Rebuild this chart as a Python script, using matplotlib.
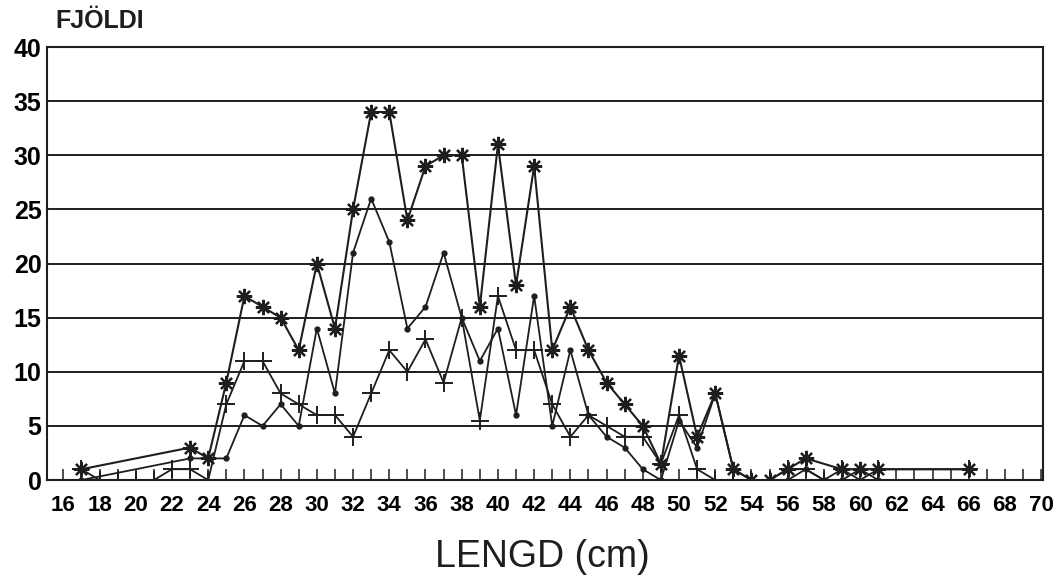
import matplotlib
matplotlib.use("Agg")
import matplotlib.pyplot as plt
import numpy as np

# ---- data (length in cm -> count) ----
total_len = [17, 23, 24, 25, 26, 27, 28, 29, 30, 31, 32, 33, 34, 35, 36, 37, 38, 39, 40,
             41, 42, 43, 44, 45, 46, 47, 48, 49, 50, 51, 52, 53, 54, 55, 56, 57, 59, 60, 61, 66]
total_val = [1, 3, 2, 9, 17, 16, 15, 12, 20, 14, 25, 34, 34, 24, 29, 30, 30, 16, 31,
             18, 29, 12, 16, 12, 9, 7, 5, 1.5, 11.5, 4, 8, 1, 0, 0, 1, 2, 1, 1, 1, 1]

dot_len = [17] + list(range(23, 62))
dot_val = [0, 2, 2, 2, 6, 5, 7, 5, 14, 8, 21, 26, 22, 14, 16, 21, 15, 11, 14, 6, 17,
           5, 12, 6, 4, 3, 1, 0, 5.5, 3, 8, 1, 0, 0, 0, 1, 0, 0, 1, 0]

plus_len = list(range(17, 62)) + [66]
plus_val = [1, 0, 0, 0, 0, 1, 1, 0, 7, 11, 11, 8, 7, 6, 6, 4, 8, 12, 10, 13, 9, 15, 5.5,
            17, 12, 12, 7, 4, 6, 5, 4, 4, 1.5, 6, 1, 0, 0, 0, 0, 1, 1, 0, 1, 0, 1, 1]

x_labels = list(range(16, 71, 2))
y_ticks = list(range(0, 41, 5))

plt.rcParams['font.family'] = ['Liberation Sans', 'DejaVu Sans']

fig = plt.figure(figsize=(10.59, 5.77), dpi=100)
ax = fig.add_axes([0.0444, 0.168, 0.9405, 0.7505])

ink = '#1e1e1e'
for yv in y_ticks[1:-1]:
    ax.axhline(yv, color=ink, lw=1.4, zorder=1)

ax.plot(total_len, total_val, color=ink, lw=1.5, marker=(8, 2, 0), ms=11, mew=1.6,
        zorder=3)
ax.plot(dot_len, dot_val, color=ink, lw=1.3, marker='o', ms=3.5, zorder=3)
ax.plot(plus_len, plus_val, color=ink, lw=1.3, marker='+', ms=13, mew=1.4, zorder=3)

ax.set_xlim(15.1, 70.1)
ax.set_ylim(0, 40)
ax.set_xticks(x_labels)
ax.set_xticklabels([str(v) for v in x_labels], fontsize=16, fontweight='bold')
ax.set_xticks(range(16, 70), minor=True)
ax.tick_params(axis='x', which='both', direction='in', length=8, width=1.1,
               color=ink, pad=11)
ax.set_yticks(y_ticks)
ax.set_yticklabels([str(v) for v in y_ticks], fontsize=18, fontweight='bold')
ax.tick_params(axis='y', length=0, pad=4)
for s in ax.spines.values():
    s.set_color(ink)
    s.set_linewidth(1.5)

fig.text(0.052, 0.942, 'FJÖLDI', fontsize=18, fontweight='bold', color=ink,
         ha='left', va='bottom')
fig.text(0.512, 0.035, 'LENGD (cm)', fontsize=27, color=ink, ha='center', va='center')

fig.savefig('out.png', dpi=100, facecolor='white')
